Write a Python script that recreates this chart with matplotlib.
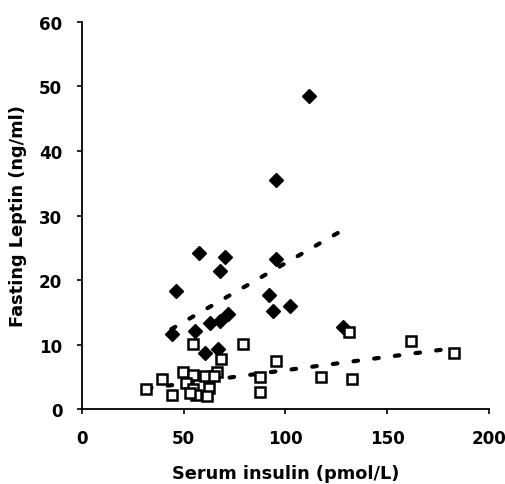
import matplotlib
matplotlib.use("Agg")
import matplotlib.pyplot as plt
import numpy as np

plt.rcParams['font.family'] = ['DejaVu Sans']

# Group 1 (filled diamonds)
x_filled = [111.4, 95.5, 57.5, 70.4, 95.5, 67.9, 46.5, 92.1, 102.1, 94.1,
            72.0, 67.9, 63.0, 55.6, 44.1, 67.0, 60.5, 128.5]
y_filled = [48.5, 35.5, 24.2, 23.6, 23.3, 21.4, 18.3, 17.7, 16.0, 15.2,
            14.7, 13.7, 13.4, 12.1, 11.6, 9.3, 8.7, 12.7]

# Group 2 (open squares)
x_open = [54.7, 79.3, 68.2, 95.6, 66.6, 49.5, 54.7, 60.5, 64.9, 39.2,
          51.4, 31.5, 54.7, 62.6, 44.1, 56.3, 61.3, 53.1, 87.5, 87.5,
          117.4, 132.8, 131.3, 161.7, 183.0]
y_open = [10.1, 10.1, 7.75, 7.5, 5.7, 5.7, 5.2, 5.05, 5.05, 4.7,
          4.0, 3.1, 3.1, 3.2, 2.2, 2.1, 1.95, 2.5, 4.9, 2.6,
          4.9, 4.65, 12.0, 10.6, 8.7]

# Trend line end points
trend_filled_x = [44, 128]
trend_filled_y = [12.4, 27.7]
trend_open_x = [32, 183]
trend_open_y = [3.2, 9.45]

xticks = [0, 50, 100, 150, 200]
yticks = [0, 10, 20, 30, 40, 50, 60]

fig = plt.figure(figsize=(5.05, 4.85), dpi=100)
ax = fig.add_axes([0.162, 0.1546, 0.806, 0.798])

dash = (0, (1.1, 3.9))
ax.plot(trend_filled_x, trend_filled_y, color='black', lw=3.0,
        linestyle=dash, dash_capstyle='round', zorder=1)
ax.plot(trend_open_x, trend_open_y, color='black', lw=3.0,
        linestyle=dash, dash_capstyle='round', zorder=1)

ax.plot(x_filled, y_filled, linestyle='none', marker='D', markersize=7.5,
        markerfacecolor='black', markeredgecolor='black', zorder=3)
ax.plot(x_open, y_open, linestyle='none', marker='s', markersize=7.3,
        markerfacecolor='white', markeredgecolor='black', markeredgewidth=1.8,
        zorder=3)

ax.set_xlim(0, 200)
ax.set_ylim(0, 60)
ax.set_xticks(xticks)
ax.set_yticks(yticks)
ax.spines['top'].set_visible(False)
ax.spines['right'].set_visible(False)
ax.spines['left'].set_linewidth(1.3)
ax.spines['bottom'].set_linewidth(1.3)
ax.tick_params(direction='out', length=3.5, width=1.2, labelsize=12.1)
ax.tick_params(axis='x', pad=11)
ax.tick_params(axis='y', pad=10.5)
for lab in ax.get_xticklabels() + ax.get_yticklabels():
    lab.set_fontweight('bold')

ax.set_xlabel('Serum insulin (pmol/L)', fontsize=12.8, fontweight='bold')
ax.set_ylabel('Fasting Leptin (ng/ml)', fontsize=12.8, fontweight='bold')
ax.xaxis.set_label_coords(0.5, -0.143)
ax.yaxis.set_label_coords(-0.135, 0.5)

fig.savefig('out.png', dpi=100)
